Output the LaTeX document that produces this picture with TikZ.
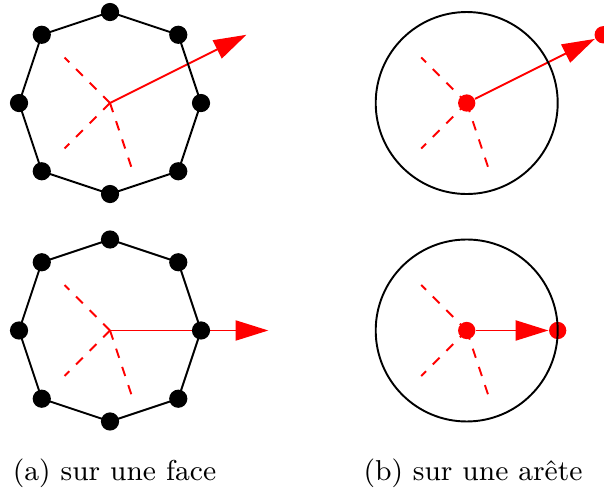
\documentclass[tikz,border=0pt]{standalone}
\usetikzlibrary{arrows.meta}

\tikzset{
    sommet/.style={circle, fill=black, inner sep=0pt, minimum size=2mm},
    pointrouge/.style={circle, fill=red, inner sep=0pt, minimum size=1.9mm},
    axe/.style={red, semithick, dashed},
    vecteur/.style={red, semithick, -{Triangle[length=3.6mm, width=2.2mm]}},
    legende/.style={anchor=base, font=\fontsize{9}{11}\selectfont}
}

\begin{document}
\begin{tikzpicture}[scale=1]
\useasboundingbox (-1.209,-4.264) rectangle (5.429,1.132);

% ===== Les centres =====
\coordinate (c1) at (0,0);
\coordinate (c2) at (0,-2.5);
\node[pointrouge] (d3) at (3.92,0) {};
\node[pointrouge] (d4) at (3.92,-2.5) {};

% ===== Axes en pointilles =====
\foreach \n in {c1,c2,d3,d4} {
    \foreach \dx/\dy in {-0.5/0.5,-0.5/-0.5,0.25/-0.75} {
        \draw[axe] (\n.center) -- ++(\dx,\dy);
    }
}

% ===== Vecteurs =====
\coordinate (f1) at (1.5,0.75);
\coordinate (f2) at (1.74,-2.5);
\node[pointrouge] (e3) at (5.42,0.75) {};
\node[pointrouge] (e4) at (4.92,-2.5) {};

\draw[vecteur] (c1) -- (f1);
\draw[vecteur] (c2) -- (f2);
\draw[vecteur] (d3) -- (e3);
\draw[vecteur] (d4) -- (e4);

% ===== Cercles =====
\draw[semithick] (d3.center) circle (1);
\draw[semithick] (d4.center) circle (1);

% ===== Octogones =====
\foreach \n/\y in {1/0,2/-2.5} {
    \foreach \px/\py [count=\i] in {0/1,0.75/0.75,1/0,0.75/-0.75,0/-1,-0.75/-0.75,-1/0,-0.75/0.75} {
        \coordinate (s\n-\i) at (\px,{\y+\py});
    }
    \draw[semithick] (s\n-1) -- (s\n-2) -- (s\n-3) -- (s\n-4) -- (s\n-5)
        -- (s\n-6) -- (s\n-7) -- (s\n-8) -- cycle;
    \foreach \i in {1,...,8} {
        \node[sommet] (v\n-\i) at (s\n-\i) {};
    }
}

% ===== Legendes =====
\node[legende] (la) at (0.05,-4.15) {(a) sur une face};
\node[legende] (lb) at (3.99,-4.15) {(b) sur une ar\^ete};

\end{tikzpicture}
\end{document}
